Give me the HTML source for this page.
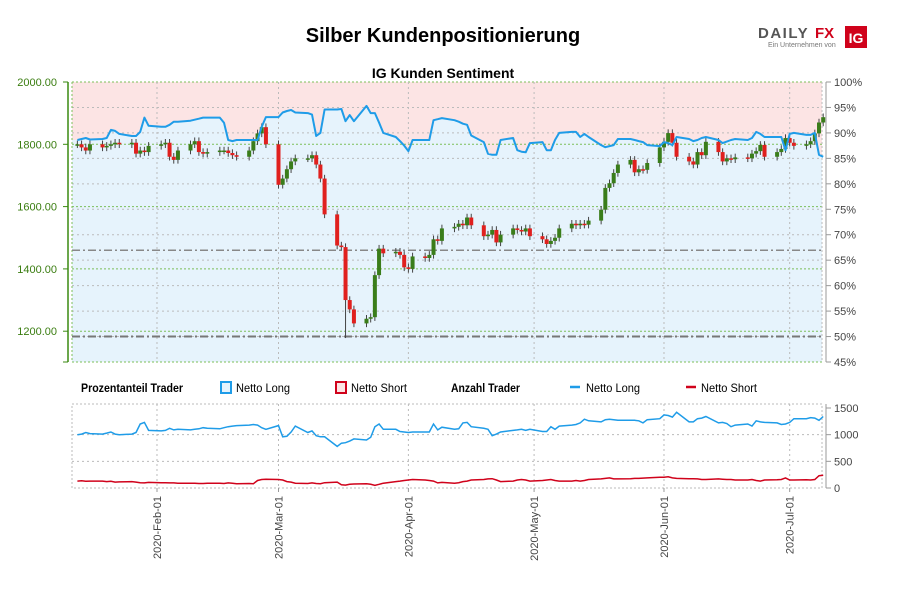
<!DOCTYPE html>
<html><head><meta charset="utf-8"><style>
body{margin:0;background:#fff;}
svg text{font-family:"Liberation Sans",sans-serif;}
.n{font-family:"Liberation Sans Narrow","Liberation Sans",sans-serif;}
</style></head><body>
<svg id="c" width="900" height="600" viewBox="0 0 900 600" xmlns="http://www.w3.org/2000/svg">
<text x="443" y="42" text-anchor="middle" font-size="20" font-weight="bold" fill="#000">Silber Kundenpositionierung</text>
<g>
<text x="758" y="38" font-size="15" font-weight="bold" fill="#555" letter-spacing="1.5">DAILY</text>
<text x="815" y="38" font-size="15" font-weight="bold" fill="#d0021b">FX</text>
<rect x="845" y="26" width="22" height="22" fill="#d0021b"/>
<text x="856" y="43" font-size="14" font-weight="bold" fill="#fff" text-anchor="middle">IG</text>
<text x="768" y="47" font-size="7" fill="#777">Ein Unternehmen von</text>
</g>
<text x="443" y="78" text-anchor="middle" font-size="14" font-weight="bold" fill="#000">IG Kunden Sentiment</text>
<g id="main"></g>
<g id="legend" class="n" font-size="12">
<text x="81" y="392" font-weight="bold" textLength="102" lengthAdjust="spacingAndGlyphs">Prozentanteil Trader</text>
<rect x="221" y="382" width="10" height="11" fill="#e6f3fc" stroke="#1f9ce8" stroke-width="2"/>
<text x="236" y="392" textLength="54" lengthAdjust="spacingAndGlyphs">Netto Long</text>
<rect x="336" y="382" width="10" height="11" fill="#fce4e4" stroke="#d0021b" stroke-width="2"/>
<text x="351" y="392" textLength="56" lengthAdjust="spacingAndGlyphs">Netto Short</text>
<text x="451" y="392" font-weight="bold" textLength="69" lengthAdjust="spacingAndGlyphs">Anzahl Trader</text>
<line x1="570" y1="387" x2="580" y2="387" stroke="#1f9ce8" stroke-width="2.5"/>
<text x="586" y="392" textLength="54" lengthAdjust="spacingAndGlyphs">Netto Long</text>
<line x1="686" y1="387" x2="696" y2="387" stroke="#d0021b" stroke-width="2.5"/>
<text x="701" y="392" textLength="56" lengthAdjust="spacingAndGlyphs">Netto Short</text>
</g>
<g id="sub"></g>
</svg>
<script>
const closes=[1800,1790,1780,1800,1790, 1795,1800,1805,1800,1805, 1770,1780,1775,1795,1800, 1805,1760,1750,1780,1800,
1810,1775,1770,1775,1780, 1780,1772,1765,1760,1780, 1810,1835,1855,1800,1670, 1690,1720,1745,1755,1755,
1765,1735,1690,1575,1475, 1470,1300,1270,1225,1240, 1245,1380,1465,1450,1455, 1445,1405,1400,1440,1435,
1445,1495,1490,1530,1535, 1545,1540,1565,1540,1505, 1510,1525,1485,1510,1530, 1525,1520,1530,1505,1495,
1480,1490,1500,1530,1545, 1540,1545,1542,1555,1590, 1660,1675,1708,1735,1750, 1710,1720,1718,1740,1790,
1808,1836,1805,1760,1745, 1735,1775,1765,1808,1775, 1745,1755,1752,1758,1755, 1770,1778,1798,1760,1775,
1785,1820,1805,1795,1800, 1810,1835,1870,1887];
const sentiment=[88.6,88.8,89.0,88.7,88.8, 89.0,90.6,90.4,89.8,89.4, 89.4,90.2,93.0,91.4,91.2, 91.2,91.6,92.2,92.2,92.4,
92.6,92.8,93.0,93.0,93.0, 92.0,88.6,88.4,88.6,88.6, 88.6,88.6,91.2,93.1,93.1, 94.0,94.3,94.5,94.0,93.9,
93.6,89.4,90.0,94.6,94.6, 94.7,92.3,93.5,92.3,95.3, 93.9,93.9,92.0,90.0,89.2, 88.4,87.5,86.4,88.6,88.6,
88.6,92.5,92.7,92.9,92.5, 92.2,91.8,91.6,89.5,88.2, 85.9,85.7,85.7,88.6,89.0, 86.6,86.3,86.2,88.0,88.2,
86.6,86.6,88.6,90.0,90.2, 90.2,89.2,89.8,89.2,87.6, 87.2,87.4,87.6,88.8,88.8, 88.6,88.4,88.2,87.6,87.4,
88.2,88.0,87.6,89.2,88.8, 88.4,88.6,89.0,89.2,88.6, 88.0,88.3,88.6,88.8,88.6, 89.0,90.2,89.8,89.2,89.2,
89.2,86.6,89.8,90.0,89.6, 89.6,90.0,85.7,85.3];
const longCount=[1000,1010,1040,1020,1010, 1030,1050,1010,1000,1010, 1040,1200,1230,1080,1070, 1080,1120,1090,1100,1090,
1100,1110,1130,1120,1110, 1130,1150,1160,1170,1180, 1190,1180,1130,1100,1170, 960,970,1050,1160,1040,
1070,980,960,960,780, 840,850,880,920,900, 950,1150,1200,1100,1100, 1060,1050,1040,1050,1050,
1050,1200,1090,1140,1100, 1110,1220,1230,1150,1120, 1100,980,1010,1050,1080, 1090,1100,1080,1100,1060,
1060,1150,1100,1160,1180, 1190,1220,1290,1260,1240, 1280,1290,1280,1270,1270, 1270,1260,1220,1280,1300,
1370,1360,1330,1420,1240, 1240,1300,1310,1340,1220, 1230,1210,1150,1180,1200, 1160,1260,1240,1230,1220,
1190,1200,1230,1300,1300, 1320,1310,1270,1340];
const shortCount=[130,135,125,130,130, 120,125,110,115,120, 110,100,95,105,100, 100,95,95,90,90,
90,85,85,90,90, 85,95,90,80,85, 80,140,160,165,160, 150,120,110,90,85,
95,85,80,100,110, 60,55,70,75,80, 70,50,70,90,120, 130,140,150,160,150,
140,130,95,105,90, 100,120,130,150,160, 170,175,150,120,130, 150,160,150,130,140,
150,160,140,130,130, 140,130,140,160,170, 180,190,170,170,175, 180,180,185,190,200,
200,210,190,180,175, 175,170,160,160,170, 165,160,160,150,150, 160,140,130,150,155,
160,190,150,150,155, 150,160,230,240];
const priceTicks=[2000,1800,1600,1400,1200];
const pctTicks=[100,95,90,85,80,75,70,65,60,55,50,45];
const countTicks=[1500,1000,500,0];
const monthLabels=["2020-Feb-01","2020-Mar-01","2020-Apr-01","2020-May-01","2020-Jun-01","2020-Jul-01"];
const monthDays=[21,50,81,111,142,172];
const avgPrice=1460;

const NS="http://www.w3.org/2000/svg";
const L=72,R=822,T=82,B=362,ST=404,SB=488;
const dayX=d=>69+4.19*d;
const priceY=v=>T+(2000-v)*62.3/200;
const pctY=p=>T+(100-p)*(B-T)/55;
const cntY=c=>SB-c*(SB-ST-4)/1500;
const days=[];{let d=2;while(days.length<closes.length){const wd=(d+6)%7; if(wd<5)days.push(d);d++;}}
function el(t,a,p){const e=document.createElementNS(NS,t);for(const k in a)e.setAttribute(k,a[k]);p.appendChild(e);return e;}
const main=document.getElementById('main');
let e=el('rect',{x:L,y:T,width:R-L,height:B-T,fill:'#fce4e4'},main);


let pts=sentiment.map((p,i)=>dayX(days[i]).toFixed(1)+','+pctY(p).toFixed(1));
e=el('polygon',{points:L+','+B+' '+L+','+pctY(sentiment[0])+' '+pts.join(' ')+' '+R+','+pctY(sentiment[sentiment.length-1])+' '+R+','+B,fill:'#e6f3fc'},main);


pctTicks.forEach(p=>{if(p<100&&p>45){const y=pctY(p);el('line',{x1:L,x2:R,y1:y,y2:y,stroke:'#bbb','stroke-dasharray':'2,3','stroke-width':1},main);}});
priceTicks.forEach(v=>{const y=priceY(v);el('line',{x1:L,x2:R,y1:y,y2:y,stroke:'#7cbf5a','stroke-dasharray':'2,2','stroke-width':1},main);});
el('line',{x1:L,x2:R,y1:B,y2:B,stroke:'#7cbf5a','stroke-dasharray':'2,2'},main);
el('line',{x1:L,x2:L,y1:T,y2:B,stroke:'#7cbf5a','stroke-dasharray':'2,2'},main);
el('line',{x1:R,x2:R,y1:T,y2:B,stroke:'#bbb','stroke-dasharray':'2,2'},main);
monthDays.forEach(d=>{const x=dayX(d);el('line',{x1:x,x2:x,y1:T,y2:B,stroke:'#bbb','stroke-dasharray':'2,3'},main);});
e=el('line',{x1:L,x2:R,y1:priceY(avgPrice),y2:priceY(avgPrice),stroke:'#888','stroke-dasharray':'8,3,2,3','stroke-width':1.5},main);


e=el('line',{x1:L,x2:R,y1:pctY(50),y2:pctY(50),stroke:'#777','stroke-dasharray':'8,3,2,3','stroke-width':2},main);


closes.forEach((c,i)=>{const o=i?closes[i-1]:c;const x=dayX(days[i]);const hi=Math.max(o,c)+12,lo=Math.min(o,c)-12-(i==46?110:0);
const g=el('g',{},main);


el('line',{x1:x,x2:x,y1:priceY(hi),y2:priceY(lo),stroke:'#444','stroke-width':1},g);
const y1=priceY(Math.max(o,c)),y2=priceY(Math.min(o,c));
el('rect',{x:x-2,y:y1,width:4,height:Math.max(1.5,y2-y1),fill:c>=o?'#3a7d1a':'#e0201e'},g);});
e=el('polyline',{points:pts.join(' '),fill:'none',stroke:'#1f9ce8','stroke-width':2,'stroke-linejoin':'round'},main);


el('line',{x1:68,x2:68,y1:T,y2:B,stroke:'#3a8a10','stroke-width':1.5},main);
priceTicks.forEach(v=>{const y=priceY(v);el('line',{x1:63,x2:68,y1:y,y2:y,stroke:'#3a8a10'},main);
const t=el('text',{x:57,y:y+4,'text-anchor':'end','font-size':11,fill:'#3a7d10'},main);t.textContent=v.toFixed(2);

});
el('line',{x1:63,x2:68,y1:B,y2:B,stroke:'#3a8a10'},main);
el('line',{x1:826,x2:826,y1:T,y2:B,stroke:'#999'},main);
pctTicks.forEach(p=>{const y=pctY(p);el('line',{x1:826,x2:831,y1:y,y2:y,stroke:'#999'},main);
const t=el('text',{x:834,y:y+4,'font-size':11,fill:'#444'},main);t.textContent=p+'%';

});
const sub=document.getElementById('sub');
el('rect',{x:L,y:ST,width:R-L,height:SB-ST,fill:'none',stroke:'#bbb','stroke-dasharray':'2,2'},sub);
[1000,500].forEach(c=>el('line',{x1:L,x2:R,y1:cntY(c),y2:cntY(c),stroke:'#bbb','stroke-dasharray':'2,3'},sub));
monthDays.forEach((d,i)=>{const x=dayX(d);el('line',{x1:x,x2:x,y1:ST,y2:SB,stroke:'#bbb','stroke-dasharray':'2,3'},sub);
el('line',{x1:x,x2:x,y1:SB,y2:SB+4,stroke:'#999'},sub);
const t=el('text',{transform:'translate('+(x+4)+',496) rotate(-90)','text-anchor':'end','font-size':11,fill:'#444',class:'n'},sub);t.textContent=monthLabels[i];

});
el('line',{x1:826,x2:826,y1:ST,y2:SB,stroke:'#999'},sub);
countTicks.forEach(c=>{const y=cntY(c);el('line',{x1:826,x2:831,y1:y,y2:y,stroke:'#999'},sub);
const t=el('text',{x:834,y:y+4,'font-size':11,fill:'#444',class:'n'},sub);t.textContent=c;

});
e=el('polyline',{points:longCount.map((c,i)=>dayX(days[i]).toFixed(1)+','+cntY(c).toFixed(1)).join(' '),fill:'none',stroke:'#1f9ce8','stroke-width':1.5},sub);


e=el('polyline',{points:shortCount.map((c,i)=>dayX(days[i]).toFixed(1)+','+cntY(c).toFixed(1)).join(' '),fill:'none',stroke:'#d0021b','stroke-width':1.5},sub);


</script>
</body></html>
